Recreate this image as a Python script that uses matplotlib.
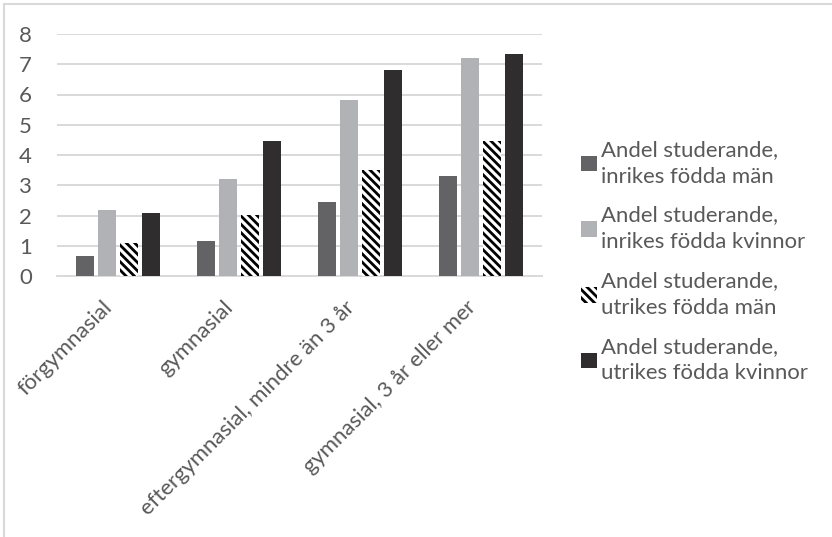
import numpy as np
import matplotlib
matplotlib.use('Agg')
import matplotlib.pyplot as plt
from matplotlib.font_manager import FontProperties
from matplotlib.textpath import TextPath
from matplotlib.lines import Line2D
from matplotlib.transforms import ScaledTranslation

FAMILY = ['Lato', 'DejaVu Sans']
plt.rcParams['font.family'] = FAMILY
plt.rcParams['hatch.linewidth'] = 2.0

categories = ['förgymnasial', 'gymnasial', 'eftergymnasial, mindre än 3 år',
              'gymnasial, 3 år eller mer']
series_names = ['Andel studerande,\ninrikes födda män',
                'Andel studerande,\ninrikes födda kvinnor',
                'Andel studerande,\nutrikes födda män',
                'Andel studerande,\nutrikes födda kvinnor']
inrikes_man = [0.65, 1.15, 2.44, 3.30]
inrikes_kvinnor = [2.17, 3.20, 5.82, 7.21]
utrikes_man = [1.09, 2.01, 3.50, 4.46]
utrikes_kvinnor = [2.07, 4.46, 6.81, 7.34]

values = [inrikes_man, inrikes_kvinnor, utrikes_man, utrikes_kvinnor]
styles = [dict(color='#636365'),
          dict(color='#b1b2b5'),
          dict(facecolor='white', edgecolor='black', hatch='\\\\\\\\', linewidth=0),
          dict(color='#2f2d2e')]

text_color = '#595959'
grid_color = '#d9d9d9'
DPI = 100


def fit_size(text, target_px):
    # font size (pt) that makes `text` about target_px wide
    w = TextPath((0, 0), text, size=100, prop=FontProperties(family=FAMILY)).get_extents().width
    return 100 * target_px * 72 / (DPI * w)


fs = fit_size('Andel studerande,', 176)

fig = plt.figure(figsize=(8.32, 5.37), dpi=DPI)
W, H = 832, 537
ax = fig.add_axes([57 / W, 1 - 276 / H, 485 / W, 242 / H])

x = np.arange(len(categories))
step = 0.181
width = 0.148
for i, (vals, st) in enumerate(zip(values, styles)):
    ax.bar(x + (i - 1.5) * step, vals, width, label=series_names[i], zorder=3, **st)

ax.set_xlim(-0.5, len(categories) - 0.5)
ax.set_ylim(0, 8)
ax.set_yticks(range(0, 9))
ax.grid(axis='y', color=grid_color, linewidth=1.4, zorder=0)
for s in ['top', 'right', 'left']:
    ax.spines[s].set_visible(False)
ax.spines['bottom'].set_color(grid_color)
ax.spines['bottom'].set_linewidth(1.4)
ax.tick_params(axis='both', length=0, labelsize=fs, colors=text_color)
ax.tick_params(axis='y', pad=18)
ax.set_xticks(x)
ax.set_xticklabels(categories, rotation=45, ha='right', va='top', rotation_mode='anchor')
ax.tick_params(axis='x', pad=15)
# rotated labels end a little left of the category centre
shift = ScaledTranslation(-0.16, 0, fig.dpi_scale_trans)
for lab in ax.get_xticklabels():
    lab.set_transform(lab.get_transform() + shift)

leg = fig.legend(loc='upper left', bbox_to_anchor=(561 / W, 1 - 120 / H),
                 frameon=False, fontsize=fs, labelcolor=text_color,
                 handlelength=0.7, handleheight=0.7, handletextpad=0.2,
                 labelspacing=0.85)
for t in leg.get_texts():
    t.set_linespacing(1.42)

# frame of the chart area: only the top and left edges are inside the picture
fig.add_artist(Line2D([4 / W, 1], [1 - 4 / H, 1 - 4 / H], transform=fig.transFigure,
                      color=grid_color, linewidth=1.5))
fig.add_artist(Line2D([4 / W, 4 / W], [0, 1 - 4 / H], transform=fig.transFigure,
                      color=grid_color, linewidth=1.5))

fig.savefig('out.png', dpi=DPI)
